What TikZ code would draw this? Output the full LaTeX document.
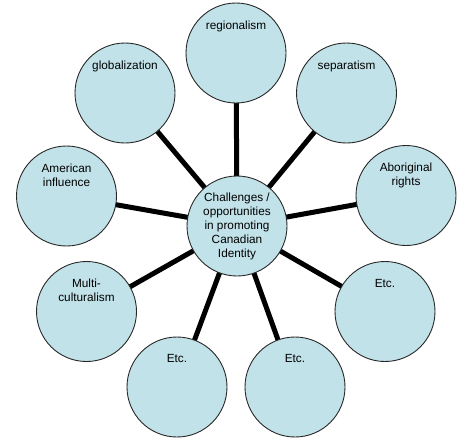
\documentclass[tikz,border=0pt]{standalone}
\usepackage{fontspec}
\setmainfont{Liberation Sans}
\usetikzlibrary{backgrounds}
\definecolor{bubfill}{RGB}{194,226,233}
\definecolor{bubline}{RGB}{40,40,40}
\tikzset{
  bub/.style={circle, draw=bubline, line width=0.9pt, fill=bubfill, minimum size=100pt, inner sep=0pt},
  lab/.style={anchor=north, align=center, inner sep=0pt, font=\fontsize{11.8}{14}\selectfont},
  ctr/.style={align=center, inner sep=0pt, font=\fontsize{11.8}{14}\selectfont},
  link/.style={line width=5pt, black}
}
\begin{document}
\begin{tikzpicture}[x=1pt,y=-1pt]
\useasboundingbox (0,0) rectangle (473,445);
\node[bub] (c) at (237,226) {};
\node[ctr] (ct) at (c.center) {Challenges /\\opportunities\\in promoting\\Canadian\\Identity};
\node[bub] (reg) at (236,53) {};
\node[bub] (sep) at (346.5,93) {};
\node[bub] (abo) at (406,195.5) {};
\node[bub] (etc1) at (385,311.5) {};
\node[bub] (etc2) at (295,387) {};
\node[bub] (etc3) at (177,387) {};
\node[bub] (mul) at (86.5,311.5) {};
\node[bub] (ame) at (66.5,196) {};
\node[bub] (glo) at (125,93) {};
\node[lab] (lreg) at ([yshift=-18pt]reg.north) {regionalism};
\node[lab] (lsep) at ([yshift=-18pt]sep.north) {separatism};
\node[lab] (labo) at ([yshift=-18pt]abo.north) {Aboriginal\\rights};
\node[lab] (letc1) at ([yshift=-18pt]etc1.north) {Etc.};
\node[lab] (letc2) at ([yshift=-18pt]etc2.north) {Etc.};
\node[lab] (letc3) at ([yshift=-18pt]etc3.north) {Etc.};
\node[lab] (lmul) at ([yshift=-18pt]mul.north) {Multi-\\culturalism};
\node[lab] (lame) at ([yshift=-18pt]ame.north) {American\\influence};
\node[lab] (lglo) at ([yshift=-18pt]glo.north) {globalization};
\begin{scope}[on background layer]
\foreach \n in {reg,sep,abo,etc1,etc2,etc3,mul,ame,glo}
  \draw[link] (c.center) -- (\n.center);
\end{scope}
\end{tikzpicture}
\end{document}
